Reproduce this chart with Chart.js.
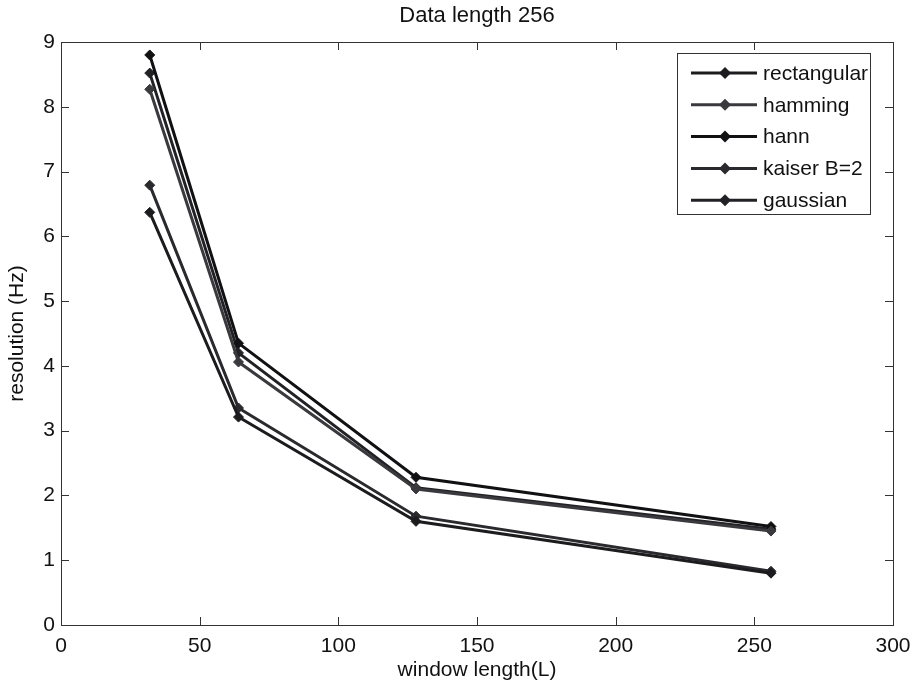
<!DOCTYPE html>
<html>
<head>
<meta charset="utf-8">
<script src="https://cdn.jsdelivr.net/npm/chart.js@4/dist/chart.umd.min.js"></script>
<style>
html,body{margin:0;padding:0;background:#fff;}
canvas{display:block;}
</style>
</head>
<body>
<canvas id="c" width="914" height="687"></canvas>
<script>
const windowLengths = [32, 64, 128, 256];
const seriesNames = ['rectangular', 'hamming', 'hann', 'kaiser B=2', 'gaussian'];
const rectangular = [6.37, 3.21, 1.60, 0.80];
const hamming = [8.27, 4.06, 2.10, 1.45];
const hann = [8.80, 4.35, 2.28, 1.52];
const kaiser = [6.79, 3.35, 1.68, 0.83];
const gaussian = [8.52, 4.20, 2.12, 1.48];
const xTicks = [0, 50, 100, 150, 200, 250, 300];
const yTicks = [0, 1, 2, 3, 4, 5, 6, 7, 8, 9];
const chartTitle = 'Data length 256';
const seriesColors = ['#1c1c1e', '#3a3a3e', '#111113', '#2a2a2e', '#222226'];

const FONT = 'Liberation Sans, Arial, sans-serif';
const allSeries = [rectangular, hamming, hann, kaiser, gaussian];

const datasets = allSeries.map((vals, i) => ({
  label: seriesNames[i],
  data: windowLengths.map((x, j) => ({x: x, y: vals[j]})),
  borderColor: seriesColors[i],
  backgroundColor: seriesColors[i],
  borderWidth: 3,
  pointStyle: 'rectRot',
  pointRadius: 5,
  pointBorderWidth: 1,
  tension: 0,
  fill: false
}));

const framePlugin = {
  id: 'frame',
  beforeDraw(chart) {
    const ctx = chart.ctx;
    ctx.save();
    ctx.fillStyle = '#fff';
    ctx.fillRect(0, 0, chart.width, chart.height);
    ctx.restore();
  },
  afterDatasetsDraw(chart) {
    const ctx = chart.ctx;
    const a = chart.chartArea;
    const xs = chart.scales.x, ys = chart.scales.y;
    ctx.save();
    // title centred over the plot area
    ctx.fillStyle = '#111';
    ctx.font = '22px ' + FONT;
    ctx.textAlign = 'center';
    ctx.textBaseline = 'middle';
    ctx.fillText(chartTitle, (a.left + a.right) / 2, 16);

    ctx.strokeStyle = '#333';
    ctx.lineWidth = 1;
    ctx.strokeRect(a.left + 0.5, a.top + 0.5, a.right - a.left, a.bottom - a.top);
    const tl = 8;
    ctx.beginPath();
    xTicks.forEach(v => {
      const px = Math.round(xs.getPixelForValue(v)) + 0.5;
      ctx.moveTo(px, a.bottom); ctx.lineTo(px, a.bottom - tl);
      ctx.moveTo(px, a.top); ctx.lineTo(px, a.top + tl);
    });
    yTicks.forEach(v => {
      const py = Math.round(ys.getPixelForValue(v)) + 0.5;
      ctx.moveTo(a.left, py); ctx.lineTo(a.left + tl, py);
      ctx.moveTo(a.right, py); ctx.lineTo(a.right - tl, py);
    });
    ctx.stroke();

    // legend box
    const bx = 677, by = 53, bw = 193, bh = 161;
    ctx.fillStyle = '#fff';
    ctx.fillRect(bx, by, bw, bh);
    ctx.strokeStyle = '#333';
    ctx.strokeRect(bx + 0.5, by + 0.5, bw, bh);
    ctx.font = '21px ' + FONT;
    ctx.textBaseline = 'middle';
    ctx.textAlign = 'left';
    chart.data.datasets.forEach((ds, i) => {
      const y = 73 + i * 31.8;
      ctx.strokeStyle = ds.borderColor;
      ctx.lineWidth = 3;
      ctx.beginPath();
      ctx.moveTo(691, y); ctx.lineTo(757, y);
      ctx.stroke();
      ctx.fillStyle = ds.borderColor;
      ctx.beginPath();
      ctx.moveTo(725, y - 6); ctx.lineTo(731, y); ctx.lineTo(725, y + 6); ctx.lineTo(719, y);
      ctx.closePath();
      ctx.fill();
      ctx.fillStyle = '#111';
      ctx.fillText(ds.label, 763, y + 1);
    });
    ctx.restore();
  }
};

new Chart(document.getElementById('c'), {
  type: 'line',
  data: { datasets: datasets },
  options: {
    responsive: false,
    animation: false,
    devicePixelRatio: 1,
    layout: { padding: { left: 0, right: 21, top: 42, bottom: 0 } },
    plugins: {
      legend: { display: false },
      tooltip: { enabled: false },
      title: { display: false }
    },
    scales: {
      x: {
        type: 'linear',
        min: 0, max: 300,
        afterBuildTicks(scale) { scale.ticks = xTicks.map(v => ({value: v})); },
        afterFit(scale) { scale.height = 62; scale.paddingLeft = 0; scale.paddingRight = 0; },
        grid: { display: false, drawTicks: false },
        border: { display: false },
        ticks: { color: '#111', padding: 9, font: { family: FONT, size: 21 }, maxRotation: 0 },
        title: {
          display: true, text: 'window length(L)', color: '#111',
          font: { family: FONT, size: 21 }, padding: { top: 0, bottom: 4.4 }
        }
      },
      y: {
        type: 'linear',
        min: 0, max: 9,
        afterBuildTicks(scale) { scale.ticks = yTicks.map(v => ({value: v})); },
        afterFit(scale) { scale.width = 61; scale.paddingTop = 0; scale.paddingBottom = 0; },
        grid: { display: false, drawTicks: false },
        border: { display: false },
        ticks: { color: '#111', padding: 6, font: { family: FONT, size: 21 } },
        title: {
          display: true, text: 'resolution (Hz)', color: '#111',
          font: { family: FONT, size: 21 }, padding: { top: 4.4, bottom: 0 }
        }
      }
    }
  },
  plugins: [framePlugin]
});
</script>
</body>
</html>
